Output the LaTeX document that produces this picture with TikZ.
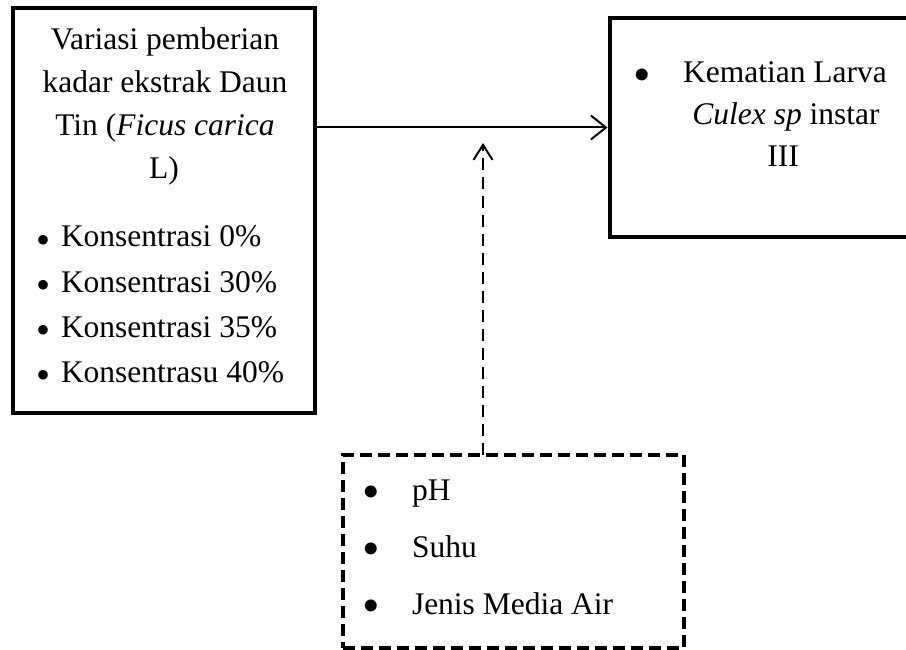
\documentclass[tikz,border=0pt]{standalone}
\usepackage{fontspec}
\setmainfont{Liberation Serif}
\usetikzlibrary{arrows.meta}
\newcommand{\bigbul}{\raisebox{-8.5pt}{\fontsize{50}{50}\selectfont\textbullet}}
\newcommand{\midbul}{\raisebox{-6.5pt}{\fontsize{40}{40}\selectfont\textbullet}}
\begin{document}
\begin{tikzpicture}[x=1pt,y=-1pt,
  txt/.style={font=\fontsize{31.5}{43}\selectfont, inner sep=0pt, outer sep=0pt},
  solidbox/.style={draw, line width=4.5pt, inner sep=0pt, outer sep=0pt},
  dashbox/.style={draw, line width=4pt, dash pattern=on 12pt off 6pt, inner sep=0pt, outer sep=0pt},
  mainarrow/.style={line width=2pt, -{Straight Barb[length=15pt,width=24pt,line width=2pt]}},
  dasharrow/.style={line width=2pt, dash pattern=on 12pt off 7pt, -{Straight Barb[length=15pt,width=19pt,line width=2pt]}}
]
\clip (0,0) rectangle (906,650);
\fill[white] (0,0) rectangle (906,650);

% boxes
\node[solidbox, minimum width=302pt, minimum height=405pt] (left) at (164,210.5) {};
\node[solidbox, minimum width=310pt, minimum height=219pt] (right) at (765,127.5) {};
\node[dashbox, minimum width=341pt, minimum height=193pt] (env) at (513.5,551.5) {};

% left box text
\node[txt, anchor=base] (l1) at (165,50) {Variasi pemberian};
\node[txt, anchor=base] (l2) at (165,93) {kadar ekstrak Daun};
\node[txt, anchor=base] (l3) at (165,136) {Tin (\textit{Ficus carica}};
\node[txt, anchor=base] (l4) at (164,179) {L)};
\node[txt, anchor=base west] (k1) at (61,247) {\llap{\midbul\hspace{10pt}}Konsentrasi 0\%};
\node[txt, anchor=base west] (k2) at (61,292) {\llap{\midbul\hspace{10pt}}Konsentrasi 30\%};
\node[txt, anchor=base west] (k3) at (61,337) {\llap{\midbul\hspace{10pt}}Konsentrasi 35\%};
\node[txt, anchor=base west] (k4) at (61,382) {\llap{\midbul\hspace{10pt}}Konsentrasu 40\%};

% right box text
\node[txt, anchor=base] (rb) at (642,83) {\bigbul};
\node[txt, anchor=base] (r1) at (785,83) {Kematian Larva};
\node[txt, anchor=base] (r2) at (786,125) {\textit{Culex sp} instar};
\node[txt, anchor=base] (r3) at (783,167) {III};

% dashed box text
\node[txt, anchor=base] (eb1) at (371,500) {\bigbul};
\node[txt, anchor=base] (eb2) at (371,557) {\bigbul};
\node[txt, anchor=base] (eb3) at (371,614) {\bigbul};
\node[txt, anchor=base west] (e1) at (412,500) {pH};
\node[txt, anchor=base west] (e2) at (412,557) {Suhu};
\node[txt, anchor=base west] (e3) at (412,614) {Jenis Media Air};

% connectors
\coordinate (tip) at (483,143);
\draw[mainarrow, shorten >=2.5pt] (left.east |- right.west) -- (right.west);
\draw[dasharrow] (env.north -| tip) -- (tip);
\end{tikzpicture}
\end{document}
